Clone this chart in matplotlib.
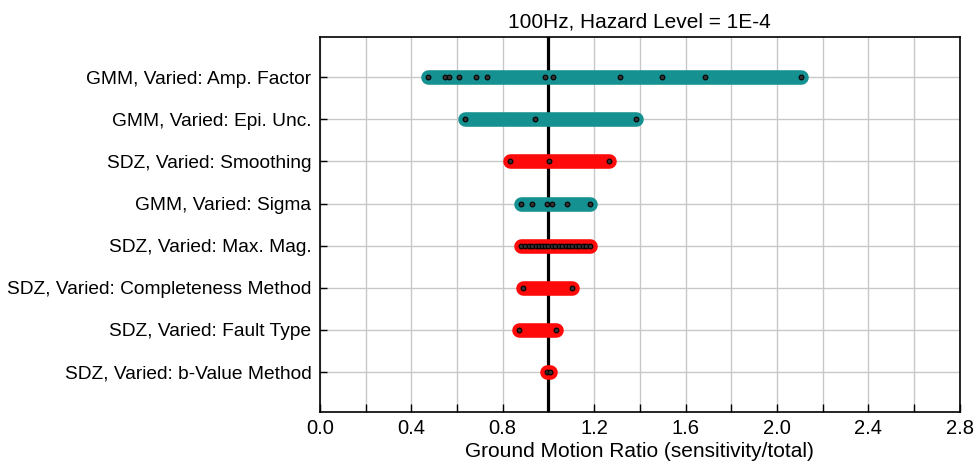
import matplotlib.pyplot as plt
from matplotlib.ticker import MultipleLocator

plt.rcParams['font.family'] = ['Liberation Sans', 'DejaVu Sans']

# categories, top to bottom
labels = [
    "GMM, Varied: Amp. Factor",
    "GMM, Varied: Epi. Unc.",
    "SDZ, Varied: Smoothing",
    "GMM, Varied: Sigma",
    "SDZ, Varied: Max. Mag.",
    "SDZ, Varied: Completeness Method",
    "SDZ, Varied: Fault Type",
    "SDZ, Varied: b-Value Method",
]
groups = ["GMM", "GMM", "SDZ", "GMM", "SDZ", "SDZ", "SDZ", "SDZ"]

# ground motion ratios of each sensitivity run
amp_factor = [0.474, 0.547, 0.566, 0.610, 0.683, 0.732, 0.983, 1.020, 1.315, 1.497, 1.684, 2.107]
epi_unc = [0.634, 0.941, 1.385]
smoothing = [0.834, 1.002, 1.266]
sigma = [0.878, 0.930, 0.992, 1.014, 1.082, 1.181]
max_mag = [0.882, 0.898, 0.913, 0.928, 0.944, 0.958, 0.972, 0.986, 1.000, 1.015,
           1.030, 1.045, 1.060, 1.075, 1.090, 1.105, 1.120, 1.135, 1.150, 1.165, 1.180]
completeness = [0.887, 1.104]
fault_type = [0.872, 1.032]
b_value = [0.992, 1.006]

ratios = [amp_factor, epi_unc, smoothing, sigma, max_mag, completeness, fault_type, b_value]
colours = {"GMM": "#169191", "SDZ": "#ff0a0a"}

fig = plt.figure(figsize=(9.78, 4.65), dpi=100)
ax = fig.add_axes([0.327, 0.114, 0.6545, 0.806])

#Draws one rounded bar per sensitivity with the individual runs as dots
for i, (vals, grp) in enumerate(zip(ratios, groups)):
    ax.plot([min(vals), max(vals)], [i, i], color=colours[grp], lw=10.5,
            solid_capstyle="round", zorder=3)
    ax.plot(vals, [i] * len(vals), "o", ms=3.4, mfc="#333333", mec="black",
            mew=0.8, zorder=4)

ax.axvline(1.0, color="black", lw=2.3, zorder=2)

ax.set_xlim(0, 2.8)
ax.set_ylim(7.95, -0.95)
ax.set_yticks(range(len(labels)))
ax.set_yticklabels(labels, fontsize=13.8)
ax.xaxis.set_major_locator(MultipleLocator(0.4))
ax.xaxis.set_minor_locator(MultipleLocator(0.2))
ax.set_xticklabels([f"{t:.1f}" for t in ax.get_xticks()], fontsize=14.5)
ax.tick_params(axis="x", which="both", direction="in", length=6, width=1, pad=5)
ax.tick_params(axis="y", direction="in", length=5, width=1, pad=6)
ax.grid(True, which="both", axis="x", color="#c8c8c8", lw=1, zorder=0)
ax.grid(True, axis="y", color="#c8c8c8", lw=1, zorder=0)
for s in ax.spines.values():
    s.set_linewidth(1.2)

ax.set_xlabel("Ground Motion Ratio (sensitivity/total)", fontsize=15, labelpad=3)
ax.set_title("100Hz, Hazard Level = 1E-4", fontsize=15, pad=7)

fig.savefig("out.png", dpi=100)
